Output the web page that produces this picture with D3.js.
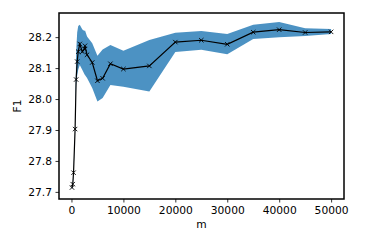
<!DOCTYPE html>
<html>
<head>
<meta charset="utf-8">
<script src="https://cdn.jsdelivr.net/npm/d3@7"></script>
<style>
  html, body { margin: 0; padding: 0; background: #fff; }
  svg { display: block; font-family: "DejaVu Sans", sans-serif; }
</style>
</head>
<body>
<svg id="chart" width="365" height="244"></svg>
<script>
const mValues = [100, 250, 400, 700, 900, 1100, 1300, 1600, 2100, 2500, 2600, 3000, 4000, 5000, 6000, 7500, 10000, 15000, 20000, 25000, 30000, 35000, 40000, 45000, 50000];
const f1Mean  = [27.714, 27.725, 27.762, 27.903, 28.063, 28.121, 28.153, 28.178, 28.153, 28.162, 28.172, 28.143, 28.118, 28.059, 28.067, 28.114, 28.097, 28.107, 28.184, 28.190, 28.177, 28.216, 28.224, 28.215, 28.217];
const f1Lower = [27.708, 27.719, 27.756, 27.896, 28.045, 28.075, 28.095, 28.110, 28.094, 28.080, 28.078, 28.068, 28.036, 27.992, 28.003, 28.045, 28.040, 28.024, 28.152, 28.159, 28.145, 28.194, 28.200, 28.204, 28.210];
const f1Upper = [27.720, 27.731, 27.768, 27.910, 28.150, 28.215, 28.236, 28.240, 28.225, 28.220, 28.222, 28.202, 28.180, 28.140, 28.160, 28.175, 28.156, 28.191, 28.214, 28.220, 28.210, 28.240, 28.249, 28.229, 28.226];
const xTicks = [0, 10000, 20000, 30000, 40000, 50000];
const yTicks = [27.7, 27.8, 27.9, 28.0, 28.1, 28.2];

const data = mValues.map((m, i) => ({ m, mean: f1Mean[i], lo: f1Lower[i], hi: f1Upper[i] }));

const margin = { left: 59, right: 21, top: 13, bottom: 45 };
const W = 365, H = 244;
const svg = d3.select("#chart");

const x = d3.scaleLinear().domain([-2400, 52480]).range([margin.left, W - margin.right]);
const y = d3.scaleLinear().domain([27.677, 28.278]).range([H - margin.bottom, margin.top]);

// band
svg.append("path")
  .datum(data)
  .attr("fill", "#1f77b4")
  .attr("fill-opacity", 0.8)
  .attr("d", d3.area().x(d => x(d.m)).y0(d => y(d.lo)).y1(d => y(d.hi)));

// line
svg.append("path")
  .datum(data)
  .attr("fill", "none")
  .attr("stroke", "#000")
  .attr("stroke-width", 1.2)
  .attr("d", d3.line().x(d => x(d.m)).y(d => y(d.mean)));

// x markers
const s = 2.2;
svg.append("g").selectAll("path")
  .data(data).join("path")
  .attr("d", d => {
    const cx = x(d.m), cy = y(d.mean);
    return `M${cx - s},${cy - s}L${cx + s},${cy + s}M${cx - s},${cy + s}L${cx + s},${cy - s}`;
  })
  .attr("stroke", "#000")
  .attr("stroke-width", 0.9);

// axes
const fontSize = "10.7px";
const xAxis = svg.append("g")
  .attr("transform", `translate(0,${H - margin.bottom})`)
  .call(d3.axisBottom(x).tickValues(xTicks).tickFormat(d3.format("d")).tickSize(3.5).tickPadding(3.5));
const yAxis = svg.append("g")
  .attr("transform", `translate(${margin.left},0)`)
  .call(d3.axisLeft(y).tickValues(yTicks).tickFormat(d3.format(".1f")).tickSize(3.5).tickPadding(3.5));

[xAxis, yAxis].forEach(g => {
  g.select(".domain").remove();
  g.selectAll(".tick line").attr("stroke", "#000").attr("stroke-width", 0.8);
  g.selectAll(".tick text").attr("fill", "#000").style("font-size", fontSize).style("font-family", "DejaVu Sans");
});

// frame
svg.append("rect")
  .attr("x", margin.left).attr("y", margin.top)
  .attr("width", W - margin.left - margin.right)
  .attr("height", H - margin.top - margin.bottom)
  .attr("fill", "none").attr("stroke", "#000").attr("stroke-width", 1.5);

// labels
svg.append("text")
  .attr("x", (margin.left + W - margin.right) / 2)
  .attr("y", 228)
  .attr("text-anchor", "middle")
  .style("font-size", fontSize)
  .text("m");

svg.append("text")
  .attr("transform", `translate(21,${(margin.top + H - margin.bottom) / 2}) rotate(-90)`)
  .attr("text-anchor", "middle")
  .style("font-size", fontSize)
  .text("F1");
</script>
</body>
</html>
